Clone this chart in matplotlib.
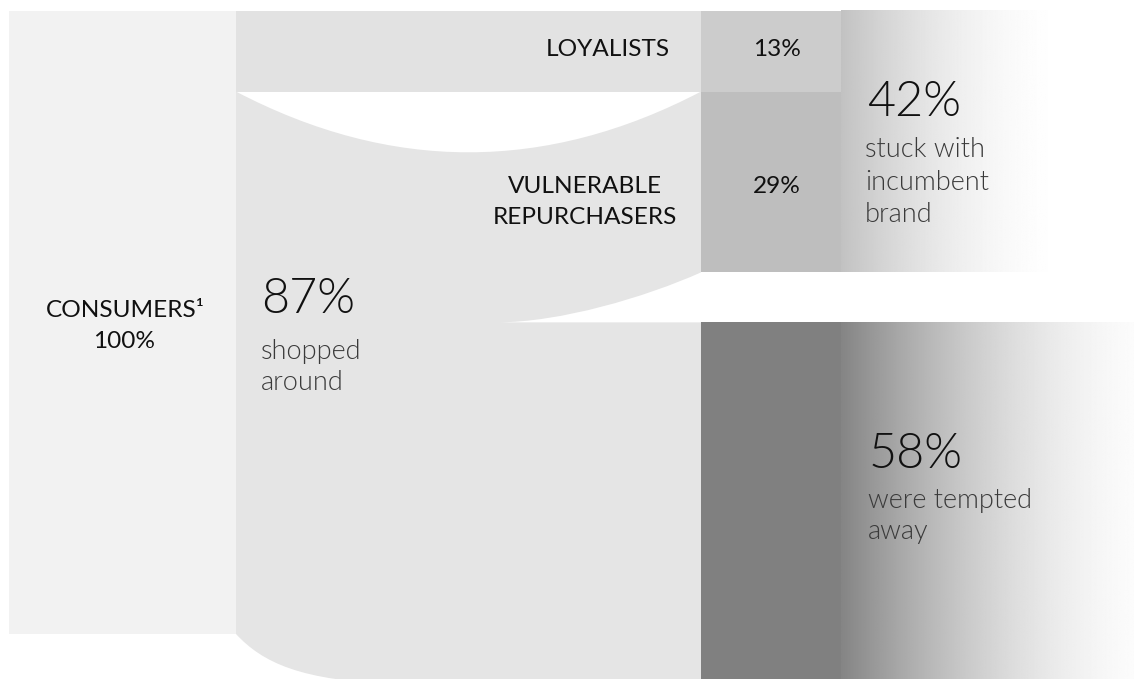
import numpy as np
import matplotlib.pyplot as plt
from matplotlib.patches import Rectangle, PathPatch
from matplotlib.path import Path

plt.rcParams['font.family'] = ['Lato', 'DejaVu Sans']

# share of consumers at each stage (%)
total_pct = 100
loyal_pct = 13
vulnerable_pct = 29
tempted_pct = 58
shopped_pct = 87
stuck_pct = 42

stage_labels = ['CONSUMERS\u00b9', 'LOYALISTS', 'VULNERABLE', 'REPURCHASERS']
notes_shopped = ['shopped', 'around']
notes_stuck = ['stuck with', 'incumbent', 'brand']
notes_tempted = ['were tempted', 'away']

# layout in pixels
PX = 6.235          # pixels per percentage point
TOP = 10.5
X_SRC, X_FLOW, X_BOX, X_GRAD, X_END = 9, 236, 701, 841, 1134
GAP = 50            # white gap between the two right-hand boxes

y_loyal = TOP + loyal_pct * PX
y_vul = y_loyal + vulnerable_pct * PX
y_src_bot = TOP + total_pct * PX
y_tempt = y_vul + GAP
y_tempt_bot = y_tempt + tempted_pct * PX

fig = plt.figure(figsize=(11.34, 6.79), dpi=100)
ax = fig.add_axes([0, 0, 1, 1])

# source column
ax.add_patch(Rectangle((X_SRC, TOP), X_FLOW - X_SRC, total_pct * PX,
                       facecolor='#f2f2f2', lw=0))
# loyalists go straight across
ax.add_patch(Rectangle((X_FLOW, TOP), X_BOX - X_FLOW, loyal_pct * PX,
                       facecolor='#e2e2e2', lw=0))

# the 87% who shopped around, splitting into vulnerable / tempted
sag = 81
verts = [
    (X_FLOW, y_loyal),
    (391, y_loyal + sag), (546, y_loyal + sag), (X_BOX, y_loyal),
    (X_BOX, y_vul),
    (645, y_vul + GAP * 0.5), (560, y_tempt), (497, y_tempt),
    (X_BOX, y_tempt),
    (X_BOX, y_tempt_bot),
    (400, y_tempt_bot),
    (300, y_tempt_bot - 2.5), (262, y_src_bot + 28), (X_FLOW, y_src_bot),
    (X_FLOW, y_loyal),
]
codes = [Path.MOVETO,
         Path.CURVE4, Path.CURVE4, Path.CURVE4,
         Path.LINETO,
         Path.CURVE4, Path.CURVE4, Path.CURVE4,
         Path.LINETO,
         Path.LINETO,
         Path.LINETO,
         Path.CURVE4, Path.CURVE4, Path.CURVE4,
         Path.CLOSEPOLY]
ax.add_patch(PathPatch(Path(verts, codes), facecolor='#e5e5e5', lw=0))

# outcome boxes
box_w = X_GRAD - X_BOX
ax.add_patch(Rectangle((X_BOX, TOP), box_w, loyal_pct * PX, facecolor='#cccccc', lw=0))
ax.add_patch(Rectangle((X_BOX, y_loyal), box_w, vulnerable_pct * PX, facecolor='#bebebe', lw=0))
ax.add_patch(Rectangle((X_BOX, y_tempt), box_w, tempted_pct * PX, facecolor='#808080', lw=0))


def fade(x0, x1, y0, y1, start, width, power=1.8):
    xs = np.linspace(x0, x1, 400)
    u = np.clip(1 - (xs - x0) / width, 0, 1)
    v = 1 - (1 - start) * u ** power
    img = np.repeat(v[None, :], 2, axis=0)
    ax.imshow(img, cmap='gray', vmin=0, vmax=1, extent=(x0, x1, y1, y0),
              aspect='auto', interpolation='bilinear', zorder=1)


fade(X_GRAD, X_END, TOP, TOP + stuck_pct * PX, 0.76, 230)
fade(X_GRAD, X_END, y_tempt, y_tempt_bot, 0.52, 340)

ax.set_xlim(0, 1134)
ax.set_ylim(679, 0)
ax.axis('off')

lab = dict(fontsize=17.6, color='#111111', zorder=3)
big = dict(fontsize=35, color='#111111', fontweight=300, zorder=3)
sub = dict(fontsize=19.5, color='#3a3a3a', fontweight=300, zorder=3)


def stacked(x, y0, lines, step, **kw):
    for i, line in enumerate(lines):
        ax.text(x, y0 + i * step, line, va='baseline', **kw)


ax.text(125, 317, stage_labels[0], ha='center', va='baseline', **lab)
ax.text(124, 348, f'{total_pct}%', ha='center', va='baseline', **lab)
ax.text(670, 56.5, stage_labels[1], ha='right', va='baseline', **lab)
ax.text(777, 56.5, f'{loyal_pct}%', ha='center', va='baseline', **lab)
stacked(585, 193.3, stage_labels[2:], 30.7, ha='center', **lab)
ax.text(777, 193.3, f'{vulnerable_pct}%', ha='center', va='baseline', **lab)

ax.text(261, 313, f'{shopped_pct}%', ha='left', va='baseline', **big)
stacked(261, 359, notes_shopped, 31, ha='left', **sub)
ax.text(867, 116, f'{stuck_pct}%', ha='left', va='baseline', **big)
stacked(865, 157, notes_stuck, 32.5, ha='left', **sub)
ax.text(869, 468, f'{tempted_pct}%', ha='left', va='baseline', **big)
stacked(868, 508, notes_tempted, 31, ha='left', **sub)

fig.savefig('out.png', dpi=100, facecolor='white')
